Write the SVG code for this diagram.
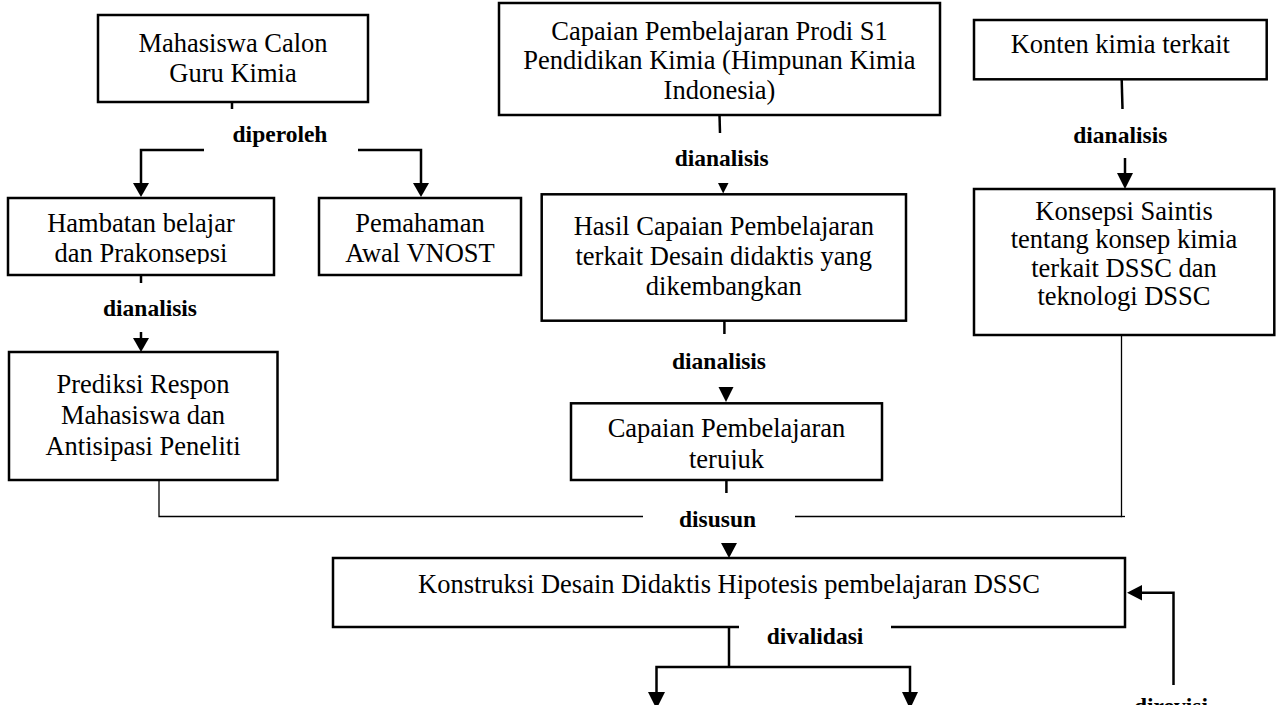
<svg xmlns="http://www.w3.org/2000/svg" width="1276" height="705" viewBox="0 0 1276 705">
<style>
.box{fill:#fff;stroke:#000;stroke-width:2.5}
.t{font-family:"Liberation Serif","Times New Roman",serif;font-size:26.5px;text-anchor:middle;fill:#000}
.lbl{font-family:"Liberation Serif","Times New Roman",serif;font-size:23.5px;font-weight:bold;text-anchor:middle;fill:#000}
.conn{stroke:#000;stroke-width:2.5;fill:none}
.thin{stroke:#000;stroke-width:1.3;fill:none}
.head{fill:#000;stroke:none}
</style>
<defs>
<clipPath id="clipHamb"><rect x="8" y="198" width="266" height="66"/></clipPath>
<clipPath id="clipTeru"><rect x="571" y="403" width="311" height="66.5"/></clipPath>
</defs>
<rect width="1276" height="705" fill="#fff"/>

<g id="connectors">
  <line class="conn" x1="232" y1="102" x2="232" y2="109"/>
  <polyline class="conn" points="204,150 141,150 141,184"/>
  <polygon class="head" points="133,183 149,183 141,197"/>
  <polyline class="conn" points="358,150 421,150 421,184"/>
  <polygon class="head" points="413,183 429,183 421,197"/>

  <line class="conn" x1="141" y1="275" x2="141" y2="283"/>
  <line class="conn" x1="141" y1="332" x2="141" y2="339"/>
  <polygon class="head" points="133,338 149,338 141,352"/>

  <line class="conn" x1="719.5" y1="115" x2="720" y2="133"/>
  <polygon class="head" points="718,183 728.5,183 723.2,193.5"/>

  <line class="conn" x1="1121.7" y1="80" x2="1122.5" y2="109"/>
  <line class="conn" x1="1125" y1="158" x2="1125" y2="174"/>
  <polygon class="head" points="1117,173 1133,173 1125,189"/>

  <line class="conn" x1="724.4" y1="321" x2="724.4" y2="334"/>
  <polygon class="head" points="718.5,387 733.5,387 726,402"/>

  <line class="conn" x1="726.4" y1="480" x2="726.4" y2="493"/>

  <polyline class="thin" points="159,480 159,516.5 643,516.5"/>
  <polyline class="thin" points="1121.5,335 1121.5,516.5 795,516.5"/>
  <line class="thin" x1="1121" y1="516.5" x2="1125" y2="516.5"/>
  <polygon class="head" points="721,543 737,543 729,558"/>

  <line class="conn" x1="729" y1="627" x2="729" y2="667"/>
  <polyline class="conn" points="656.5,693 656.5,667 910,667 910,693"/>
  <polygon class="head" points="648,692 665,692 656.5,709"/>
  <polygon class="head" points="902,692 918,692 910,709"/>

  <polyline class="conn" points="1173.5,685 1173.5,592.7 1141,592.7"/>
  <polygon class="head" points="1142,585 1142,600.5 1127,592.7"/>
</g>

<g id="n-mahasiswa">
  <rect class="box" x="98" y="15" width="270" height="87"/>
  <text class="t" x="233" y="52">Mahasiswa Calon</text>
  <text class="t" x="233" y="82">Guru Kimia</text>
</g>
<g id="l-diperoleh"><text class="lbl" x="280" y="142">diperoleh</text></g>

<g id="n-hambatan">
  <rect class="box" x="8" y="198" width="266" height="77"/>
  <g clip-path="url(#clipHamb)">
    <text class="t" x="141" y="232">Hambatan belajar</text>
    <text class="t" x="141" y="262.3">dan Prakonsepsi</text>
  </g>
</g>
<g id="n-pemahaman">
  <rect class="box" x="319" y="198" width="202" height="77"/>
  <text class="t" x="420" y="232">Pemahaman</text>
  <text class="t" x="420" y="262">Awal VNOST</text>
</g>
<g id="l-dianalisis1"><text class="lbl" x="150" y="316">dianalisis</text></g>

<g id="n-prediksi">
  <rect class="box" x="9" y="352" width="268.5" height="128"/>
  <text class="t" x="143" y="393">Prediksi Respon</text>
  <text class="t" x="143" y="424">Mahasiswa dan</text>
  <text class="t" x="143" y="455">Antisipasi Peneliti</text>
</g>

<g id="n-capaian-prodi">
  <rect class="box" x="499" y="3" width="441" height="112"/>
  <text class="t" x="719.5" y="39.5">Capaian Pembelajaran Prodi S1</text>
  <text class="t" x="719.5" y="68.5">Pendidikan Kimia (Himpunan Kimia</text>
  <text class="t" x="719.5" y="99">Indonesia)</text>
</g>
<g id="l-dianalisis2"><text class="lbl" x="721.7" y="166">dianalisis</text></g>

<g id="n-hasil">
  <rect class="box" x="541.7" y="194.3" width="364.3" height="126.4"/>
  <text class="t" x="723.8" y="235">Hasil Capaian Pembelajaran</text>
  <text class="t" x="723.8" y="265">terkait Desain didaktis yang</text>
  <text class="t" x="723.8" y="295">dikembangkan</text>
</g>
<g id="l-dianalisis3"><text class="lbl" x="719" y="368.5">dianalisis</text></g>

<g id="n-teruiuk">
  <rect class="box" x="571" y="403.3" width="311" height="76.7"/>
  <g clip-path="url(#clipTeru)">
    <text class="t" x="726.5" y="437.3">Capaian Pembelajaran</text>
    <text class="t" x="726.5" y="467.7">terujuk</text>
  </g>
</g>

<g id="n-konten">
  <rect class="box" x="974" y="20" width="292.7" height="59.3"/>
  <text class="t" x="1120.3" y="53.3">Konten kimia terkait</text>
</g>
<g id="l-dianalisis4"><text class="lbl" x="1120.3" y="143">dianalisis</text></g>

<g id="n-konsepsi">
  <rect class="box" x="974" y="189" width="300.3" height="146"/>
  <text class="t" x="1124" y="220">Konsepsi Saintis</text>
  <text class="t" x="1124" y="248.3">tentang konsep kimia</text>
  <text class="t" x="1124" y="276.7">terkait DSSC dan</text>
  <text class="t" x="1124" y="305">teknologi DSSC</text>
</g>

<g id="l-disusun"><text class="lbl" x="717.5" y="527">disusun</text></g>

<g id="n-konstruksi">
  <rect x="333" y="558" width="792" height="69" fill="#fff"/>
  <path class="conn" d="M739,627 H333 V558 H1125 V627 H891"/>
  <text class="t" x="729" y="593.3">Konstruksi Desain Didaktis Hipotesis pembelajaran DSSC</text>
</g>
<g id="l-divalidasi"><text class="lbl" x="815" y="644">divalidasi</text></g>
<g id="l-direvisi"><text class="lbl" x="1171" y="714">direvisi</text></g>
</svg>
